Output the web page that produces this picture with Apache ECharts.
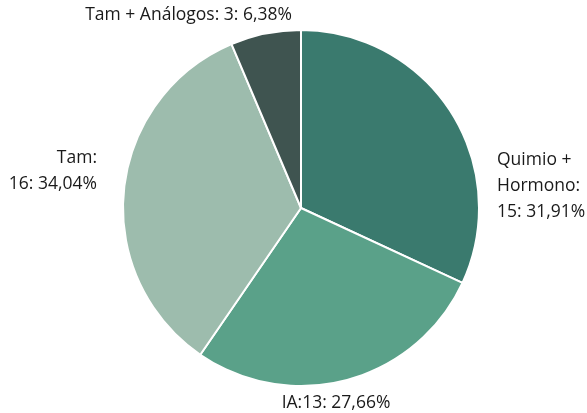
<!DOCTYPE html>
<html>
<head>
<meta charset="utf-8">
<script src="https://cdn.jsdelivr.net/npm/echarts@6/dist/echarts.min.js"></script>
<style>
  html, body { margin: 0; padding: 0; background: #fff; }
  #chart { width: 587px; height: 413px; }
</style>
</head>
<body>
<div id="chart"></div>
<script>
const categories = ['Quimio + Hormono', 'IA', 'Tam', 'Tam + Análogos']
const values = [15, 13, 16, 3]
// how each label is broken over lines
const labelHeads = ['Quimio +\nHormono:\n', 'IA:', 'Tam:\n', 'Tam + Análogos: ']
const colors = ['#3a7a6e', '#5aa189', '#9dbcad', '#3f5450']

// where each label sits (x, y, align)
const labelSpots = [
  { x: 497, y: 186, align: 'left' },
  { x: 336, y: 403, align: 'center' },
  { x: 97, y: 171, align: 'right' },
  { x: 292, y: 15, align: 'right' }
]

const total = values.reduce((a, b) => a + b, 0)

const option = {
  animation: false,
  color: colors,
  series: [
    {
      type: 'pie',
      center: [301, 208],
      radius: 178,
      startAngle: 90,
      clockwise: true,
      itemStyle: { borderColor: '#fff', borderWidth: 2 },
      labelLine: { show: false },
      label: {
        show: true,
        position: 'outside',
        overflow: 'none',
        fontFamily: 'Open Sans',
        fontSize: 17.5,
        lineHeight: 26,
        color: '#1a1a1a',
        formatter: function (p) {
          let pct = (p.value / total * 100).toFixed(2).replace('.', ',')
          return labelHeads[p.dataIndex] + p.value + ': ' + pct + '%'
        }
      },
      labelLayout: function (p) {
        let s = labelSpots[p.dataIndex]
        return { x: s.x, y: s.y, align: s.align, verticalAlign: 'middle', width: 300 }
      },
      data: categories.map((c, i) => ({ name: c, value: values[i] }))
    }
  ]
}

let chart = echarts.init(document.getElementById('chart'))
chart.setOption(option)
</script>
</body>
</html>
